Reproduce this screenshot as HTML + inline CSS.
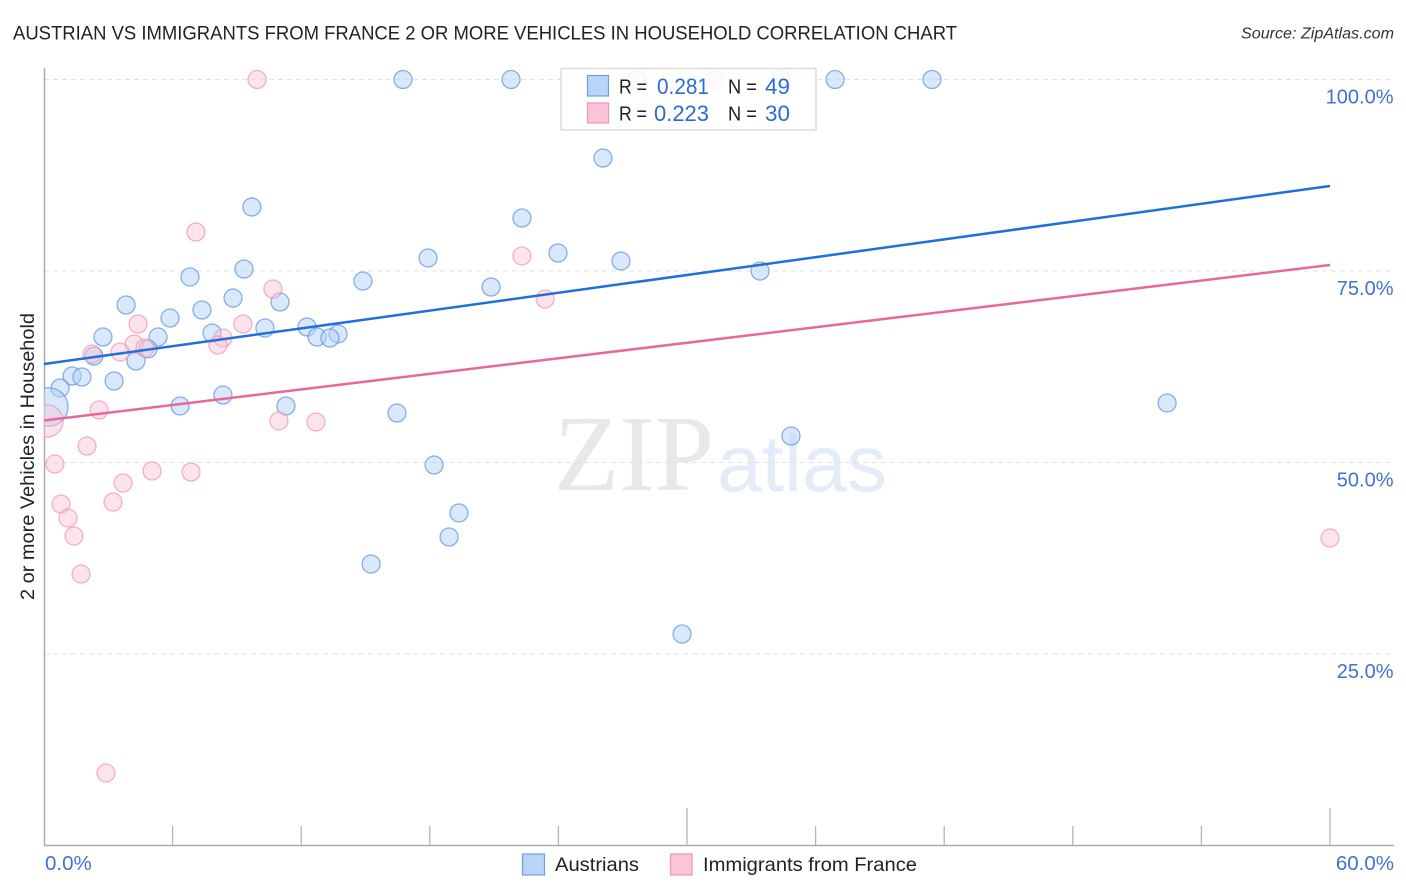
<!DOCTYPE html>
<html lang="en">
<head>
<meta charset="utf-8">
<title>Austrian vs Immigrants from France Correlation Chart</title>
<style>
html,body{margin:0;padding:0;background:#fff;width:1406px;height:892px;overflow:hidden}
svg{display:block}
text{font-family:"Liberation Sans",sans-serif}
</style>
</head>
<body>
<svg id="chart" xmlns="http://www.w3.org/2000/svg" width="1406" height="892" viewBox="0 0 1406 892">
  <defs><clipPath id="plot-clip"><rect x="44" y="60" width="1350" height="786"/></clipPath></defs>
  <text x="13" y="39.5" font-size="19" fill="#222" textLength="944" lengthAdjust="spacingAndGlyphs">AUSTRIAN VS IMMIGRANTS FROM FRANCE 2 OR MORE VEHICLES IN HOUSEHOLD CORRELATION CHART</text>
  <text x="1241" y="38.5" font-size="15.5" font-style="italic" fill="#333" textLength="153" lengthAdjust="spacingAndGlyphs">Source: ZipAtlas.com</text>
  <text x="554" y="490" font-size="108" fill="#e8e8e8" style="font-family:'Liberation Serif',serif" textLength="160" lengthAdjust="spacingAndGlyphs">ZIP</text>
  <text x="717" y="491" font-size="80" fill="#e4ecfa" textLength="170" lengthAdjust="spacingAndGlyphs">atlas</text>
  <g id="grid"></g>
  <g id="axes"></g>
  <g id="points" clip-path="url(#plot-clip)"></g>
  <g id="trends"></g>

  <g>
    <rect x="561" y="68.5" width="255" height="61.5" fill="#fff" fill-opacity="0.86" stroke="#dcdcdc" stroke-width="1.5"/>
    <rect x="587.5" y="75.5" width="21" height="20.5" fill="#b8d4f8" stroke="#6f9fdf" stroke-width="1.2"/>
    <rect x="587.5" y="103" width="21" height="20" fill="#fcc4d6" stroke="#ee96b2" stroke-width="1.2"/>
    <text x="619" y="93.5" font-size="20" fill="#222" textLength="28" lengthAdjust="spacingAndGlyphs">R =</text>
    <text x="657" y="94" font-size="22" fill="#2c6bd0" textLength="52" lengthAdjust="spacingAndGlyphs">0.281</text>
    <text x="728" y="93.5" font-size="20" fill="#222" textLength="29" lengthAdjust="spacingAndGlyphs">N =</text>
    <text x="765" y="94" font-size="22" fill="#2c6bd0" textLength="25" lengthAdjust="spacingAndGlyphs">49</text>
    <text x="619" y="120.5" font-size="20" fill="#222" textLength="28" lengthAdjust="spacingAndGlyphs">R =</text>
    <text x="654" y="121" font-size="22" fill="#2c6bd0" textLength="55" lengthAdjust="spacingAndGlyphs">0.223</text>
    <text x="728" y="120.5" font-size="20" fill="#222" textLength="29" lengthAdjust="spacingAndGlyphs">N =</text>
    <text x="765" y="121" font-size="22" fill="#2c6bd0" textLength="25" lengthAdjust="spacingAndGlyphs">30</text>
  </g>

  <text transform="translate(34 600) rotate(-90)" x="0" y="0" font-size="19" fill="#222" textLength="287" lengthAdjust="spacingAndGlyphs">2 or more Vehicles in Household</text>

  <g>
    <rect x="522.5" y="854" width="22" height="21" fill="#b8d4f8" stroke="#6f9fdf" stroke-width="1.2"/>
    <text x="555" y="871" font-size="19.5" fill="#222" textLength="84" lengthAdjust="spacingAndGlyphs">Austrians</text>
    <rect x="670.5" y="854" width="21.5" height="21" fill="#fcc4d6" stroke="#ee96b2" stroke-width="1.2"/>
    <text x="703" y="871" font-size="19.5" fill="#222" textLength="214" lengthAdjust="spacingAndGlyphs">Immigrants from France</text>
  </g>
</svg>
<script>
const yTickValues = [100, 75, 50, 25];
const yTickLabels = ["100.0%", "75.0%", "50.0%", "25.0%"];
const xTickValues = [0, 6, 12, 18, 24, 30, 36, 42, 48, 54, 60];
const xMajorTicks = [30, 60];
const xEndValues = [0, 60];
const xEndLabels = ["0.0%", "60.0%"];

const austrianX = [16.75,21.79,27.67,34.39,36.91,41.43,26.08,9.70,22.30,23.98,17.92,26.92,9.33,33.41,6.81,14.88,20.86,3.83,8.82,11.01,7.37,5.88,12.27,10.31,7.84,13.72,12.74,13.34,2.75,5.32,4.85,2.33,4.29,1.31,1.77,3.27,0.75,8.35,6.35,11.29,16.47,0.23,52.40,34.85,18.20,19.36,18.90,15.26,29.77];
const austrianY = [100,100,100,100,100,100,89.75,83.36,81.92,77.35,76.70,76.31,75.26,75.00,74.22,73.69,72.91,70.56,71.47,70.95,69.91,68.86,67.69,67.56,66.91,66.78,66.38,66.25,66.38,66.38,64.82,63.90,63.25,61.29,61.16,60.64,59.73,58.81,57.38,57.38,56.46,57.25,57.77,53.46,49.67,43.41,40.27,36.75,27.61];
const austrianWeight = [1,1,1,1,1,1,1,1,1,1,1,1,1,1,1,1,1,1,1,1,1,1,1,1,1,1,1,1,1,1,1,1,1,1,1,1,1,1,1,1,1,4.5,1,1,1,1,1,1,1];

const franceX = [9.94,31.31,7.09,22.30,10.68,23.38,4.39,9.28,8.35,8.12,4.20,2.24,3.55,4.71,0.14,2.57,10.96,12.69,2.01,0.51,5.04,6.86,3.69,3.22,0.79,1.12,1.40,1.73,2.89,60];
const franceY = [100,100,80.09,76.96,72.65,71.34,68.08,68.08,66.25,65.34,65.47,64.16,64.43,64.95,55.42,56.85,55.42,55.29,52.15,49.80,48.89,48.76,47.32,44.84,44.58,42.75,40.40,35.44,9.46,40.14];
const franceWeight = [1,1,1,1,1,1,1,1,1,1,1,1,1,1,3.2,1,1,1,1,1,1,1,1,1,1,1,1,1,1,1];

const trendX = [0, 60];
const austrianTrendY = [62.86, 86.10];
const franceTrendY = [55.48, 75.78];

function xScale(v) { return 44 + v * (1286 / 60); }
function yScale(v) { return 845.5 - v * 7.66; }
function radius(w) { return 9 * Math.sqrt(w); }

const NS = 'http://www.w3.org/2000/svg';
function make(parent, tag, props, txt) {
  const el = document.createElementNS(NS, tag);
  for (const k in props) el.setAttribute(k, props[k]);
  if (txt !== undefined) el.textContent = txt;
  parent.appendChild(el);
  return el;
}

const gridG = document.getElementById('grid');
const axesG = document.getElementById('axes');
const pointsG = document.getElementById('points');
const trendsG = document.getElementById('trends');

yTickValues.forEach(function (v, i) {
  const line = make(gridG, 'line', {x1: 44, x2: 1394, y1: yScale(v), y2: yScale(v), stroke: '#e2e2e2', 'stroke-width': 1, 'stroke-dasharray': '5 4'});
  
  
  const lab = make(axesG, 'text', {x: 1393.5, y: yScale(v) + 24, 'text-anchor': 'end', 'font-size': 20, fill: '#3f73d3'}, yTickLabels[i]);
  
  
});

const yAxis = make(axesG, 'line', {x1: 44.5, x2: 44.5, y1: 68, y2: 846, stroke: '#aaa', 'stroke-width': 1.5});


const xAxis = make(axesG, 'line', {x1: 44, x2: 1394, y1: 845.5, y2: 845.5, stroke: '#aaa', 'stroke-width': 1.5});



xTickValues.forEach(function (v) {
  if (v === 0) return;
  const top = xMajorTicks.indexOf(v) >= 0 ? 808 : 826;
  const tick = make(axesG, 'line', {x1: xScale(v), x2: xScale(v), y1: top, y2: 845, stroke: '#b5b5b5', 'stroke-width': 1.3});
  
  
});

xEndValues.forEach(function (v, i) {
  const anchor = v === 0 ? 'start' : 'end';
  const px = v === 0 ? xScale(v) + 1 : xScale(v) + 64;
  const lab = make(axesG, 'text', {x: px, y: 870, 'text-anchor': anchor, 'font-size': 20.5, fill: '#3f73d3'}, xEndLabels[i]);
  
  
});

austrianX.forEach(function (v, i) {
  const c = make(pointsG, 'circle', {cx: xScale(v), cy: yScale(austrianY[i]), r: radius(austrianWeight[i]), fill: '#b3d1f7', 'fill-opacity': 0.5, stroke: '#5b94de', 'stroke-opacity': 0.72, 'stroke-width': 1.3});
  
  
});

franceX.forEach(function (v, i) {
  const c = make(pointsG, 'circle', {cx: xScale(v), cy: yScale(franceY[i]), r: radius(franceWeight[i]), fill: '#fac0d2', 'fill-opacity': 0.45, stroke: '#ef8fae', 'stroke-opacity': 0.68, 'stroke-width': 1.3});
  
  
});

const austrianLine = make(trendsG, 'line', {x1: xScale(trendX[0]), x2: xScale(trendX[1]), y1: yScale(austrianTrendY[0]), y2: yScale(austrianTrendY[1]), stroke: '#1f6fdc', 'stroke-width': 2.5});


const franceLine = make(trendsG, 'line', {x1: xScale(trendX[0]), x2: xScale(trendX[1]), y1: yScale(franceTrendY[0]), y2: yScale(franceTrendY[1]), stroke: '#e8689a', 'stroke-width': 2.5});


</script>
</body>
</html>
